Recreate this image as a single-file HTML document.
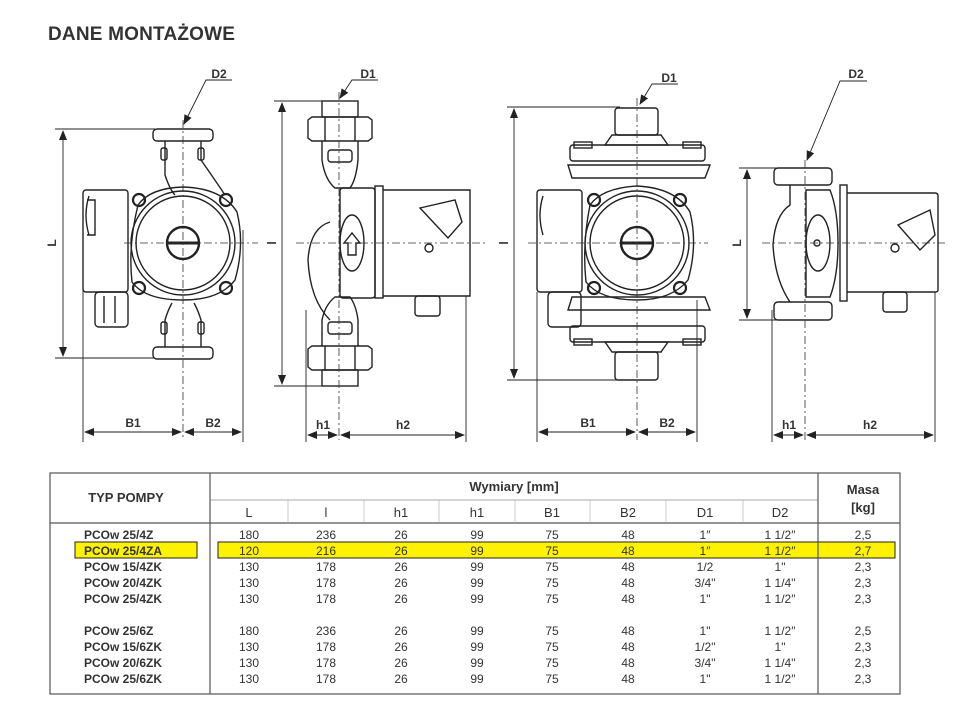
<!DOCTYPE html>
<html><head><meta charset="utf-8">
<style>
html,body{margin:0;padding:0;background:#fff;}
body{width:965px;height:708px;position:relative;overflow:hidden;font-family:"Liberation Sans",sans-serif;color:#333;}
.t{position:absolute;left:48px;top:24px;font-size:19px;font-weight:bold;color:#333;letter-spacing:0.2px;}
svg{position:absolute;left:0;top:0;}
</style></head><body>
<div class="t">DANE MONTAŻOWE</div>
<svg width="965" height="708" viewBox="0 0 965 708" font-family="Liberation Sans, sans-serif">
<defs>
<marker id="a" markerWidth="10" markerHeight="8" refX="9" refY="4" orient="auto-start-reverse" markerUnits="userSpaceOnUse"><path d="M0,0 L10,4 L0,8 z" fill="#222"/></marker>
</defs>
<g stroke="#222" fill="none" stroke-width="1.4">
<!-- ============ Drawing 1 ============ -->
<rect x="153" y="129" width="60" height="12" rx="4"/>
<rect x="153" y="347" width="60" height="12" rx="4"/>
<path d="M165 141 L165 175 Q170 190 175 195 M201 141 L201 160 Q215 180 225 195"/>
<path d="M165 347 L165 320 Q168 310 172 303 M201 347 L201 320 Q198 310 194 303"/>
<rect x="161" y="148" width="6" height="12" rx="2"/><rect x="198" y="148" width="6" height="12" rx="2"/>
<rect x="161" y="322" width="6" height="12" rx="2"/><rect x="198" y="322" width="6" height="12" rx="2"/>
<path d="M138 205 Q150 188 183 187 Q222 188 237 212 Q245 245 235 280 Q220 300 183 300 Q145 300 132 282 Q128 245 138 205 z"/>
<circle cx="183" cy="243" r="52"/>
<circle cx="183" cy="243" r="47"/>
<circle cx="183" cy="243" r="16" stroke-width="2.4"/>
<line x1="168" y1="243" x2="198" y2="243" stroke-width="3"/>
<circle cx="139" cy="200" r="6" stroke-width="2.2"/><circle cx="226" cy="200" r="6" stroke-width="2.2"/>
<circle cx="139" cy="288" r="6" stroke-width="2.2"/><circle cx="226" cy="288" r="6" stroke-width="2.2"/>
<rect x="83" y="190" width="45" height="102" rx="3"/>
<path d="M89 196 Q83 215 89 235 M87 200 L95 200 L95 235 L87 235"/>
<rect x="95" y="292" width="33" height="35" rx="4"/>
<line x1="104" y1="296" x2="104" y2="323"/><line x1="115" y1="296" x2="115" y2="323"/>
<!-- ============ Drawing 2 ============ -->
<rect x="322" y="101" width="36" height="16"/>
<path d="M308 120 L312 117 L368 117 L372 120 L372 138 L368 141 L312 141 L308 138 z"/>
<line x1="325" y1="117" x2="325" y2="141"/><line x1="355" y1="117" x2="355" y2="141"/>
<rect x="322" y="370" width="36" height="16"/>
<path d="M308 349 L312 346 L368 346 L372 349 L372 367 L368 370 L312 370 L308 367 z"/>
<line x1="325" y1="346" x2="325" y2="370"/><line x1="355" y1="346" x2="355" y2="370"/>
<rect x="328" y="150" width="24" height="12" rx="3"/><rect x="328" y="322" width="24" height="12" rx="3"/>
<path d="M322 141 L322 160 Q325 180 335 188 L350 188 Q356 180 358 160 L358 141"/>
<path d="M322 346 L322 320 Q325 305 335 297 L350 297 Q356 305 358 320 L358 346"/>
<path d="M330 222 Q310 228 308 260 Q310 300 330 320"/>
<rect x="340" y="188" width="35" height="110" rx="3"/>
<ellipse cx="352" cy="243" rx="12" ry="28"/>
<path d="M348 255 L348 243 L344 243 L352 233 L360 243 L356 243 L356 255 z"/>
<rect x="375" y="186" width="8" height="112"/>
<path d="M383 190 L470 190 L470 296 L383 296"/>
<path d="M420 208 L455 200 L462 222 L448 238 Z"/>
<circle cx="429" cy="248" r="4"/>
<rect x="415" y="296" width="25" height="20" rx="3"/>
<!-- ============ Drawing 3 ============ -->
<rect x="615" y="108" width="43" height="27" rx="3"/>
<path d="M612 135 L661 135 L668 145 L605 145 Z"/>
<rect x="570" y="145" width="135" height="16" rx="3"/>
<rect x="574" y="142" width="18" height="6"/><rect x="683" y="142" width="18" height="6"/>
<path d="M568 165 L710 165 L705 178 L572 178 Z"/>
<rect x="615" y="352" width="43" height="28" rx="3"/>
<path d="M612 352 L661 352 L668 342 L605 342 Z"/>
<rect x="570" y="326" width="135" height="16" rx="3"/>
<rect x="574" y="339" width="18" height="6"/><rect x="683" y="339" width="18" height="6"/>
<path d="M568 310 L710 310 L705 297 L572 297 Z"/>
<path d="M590 205 Q602 188 637 186 Q676 188 690 212 Q698 245 688 280 Q672 300 637 300 Q600 300 586 282 Q582 245 590 205 z"/>
<circle cx="637" cy="243" r="52"/>
<circle cx="637" cy="243" r="47"/>
<circle cx="637" cy="243" r="16" stroke-width="2.4"/>
<line x1="622" y1="243" x2="652" y2="243" stroke-width="3"/>
<circle cx="594" cy="200" r="6" stroke-width="2.2"/><circle cx="680" cy="200" r="6" stroke-width="2.2"/>
<circle cx="594" cy="288" r="6" stroke-width="2.2"/><circle cx="680" cy="288" r="6" stroke-width="2.2"/>
<rect x="537" y="190" width="45" height="102" rx="3"/>
<path d="M543 196 Q537 215 543 235"/>
<rect x="548" y="292" width="33" height="35" rx="4"/>
<!-- ============ Drawing 4 ============ -->
<rect x="774" y="168" width="58" height="17" rx="4"/>
<rect x="774" y="302" width="58" height="18" rx="4"/>
<path d="M790 185 L790 205 Q775 215 773 245 Q775 280 790 302"/>
<path d="M806 190 L830 190 Q838 210 838 243 Q838 276 830 297 L806 297 Z"/>
<ellipse cx="818" cy="243" rx="12" ry="28"/>
<circle cx="817" cy="243" r="3"/>
<rect x="840" y="185" width="7" height="116"/>
<path d="M847 193 L935 193 Q938 193 938 196 L938 290 Q938 292 935 292 L847 292"/>
<path d="M898 225 L930 210 L935 235 L920 250 Z"/>
<circle cx="895" cy="248" r="4"/>
<rect x="883" y="292" width="24" height="20" rx="3"/>
</g>

<!-- center lines -->
<g stroke="#333" stroke-width="0.8" stroke-dasharray="8,3,2,3" fill="none">
<line x1="183" y1="120" x2="183" y2="440"/><line x1="124" y1="243" x2="258" y2="243"/>
<line x1="339" y1="92" x2="339" y2="440"/><line x1="296" y1="243" x2="485" y2="243"/>
<line x1="637" y1="98" x2="637" y2="440"/><line x1="528" y1="243" x2="708" y2="243"/>
<line x1="805" y1="160" x2="805" y2="440"/><line x1="762" y1="243" x2="945" y2="243"/>
</g>

<!-- dimension / extension lines -->
<g stroke="#222" stroke-width="0.9" fill="none">
<line x1="55" y1="129" x2="155" y2="129"/><line x1="55" y1="358" x2="155" y2="358"/>
<line x1="63" y1="131" x2="63" y2="356" marker-start="url(#a)" marker-end="url(#a)"/>
<line x1="83" y1="290" x2="83" y2="442"/><line x1="243" y1="230" x2="243" y2="442"/>
<line x1="85" y1="432" x2="181" y2="432" marker-start="url(#a)" marker-end="url(#a)"/>
<line x1="185" y1="432" x2="241" y2="432" marker-start="url(#a)" marker-end="url(#a)"/>
<polyline points="232,80 206,80 184,124" marker-end="url(#a)"/>

<line x1="274" y1="101" x2="322" y2="101"/><line x1="274" y1="386" x2="322" y2="386"/>
<line x1="282" y1="103" x2="282" y2="384" marker-start="url(#a)" marker-end="url(#a)"/>
<line x1="306" y1="310" x2="306" y2="442"/><line x1="466" y1="296" x2="466" y2="442"/>
<line x1="308" y1="435" x2="337" y2="435" marker-start="url(#a)" marker-end="url(#a)"/>
<line x1="341" y1="435" x2="464" y2="435" marker-start="url(#a)" marker-end="url(#a)"/>
<polyline points="378,80 352,80 340,98" marker-end="url(#a)"/>

<line x1="507" y1="107" x2="620" y2="107"/><line x1="507" y1="380" x2="620" y2="380"/>
<line x1="514" y1="109" x2="514" y2="378" marker-start="url(#a)" marker-end="url(#a)"/>
<line x1="537" y1="292" x2="537" y2="442"/><line x1="697" y1="300" x2="697" y2="442"/>
<line x1="539" y1="432" x2="635" y2="432" marker-start="url(#a)" marker-end="url(#a)"/>
<line x1="639" y1="432" x2="695" y2="432" marker-start="url(#a)" marker-end="url(#a)"/>
<polyline points="678,84 652,84 640,104" marker-end="url(#a)"/>

<line x1="739" y1="168" x2="790" y2="168"/><line x1="739" y1="320" x2="790" y2="320"/>
<line x1="747" y1="170" x2="747" y2="318" marker-start="url(#a)" marker-end="url(#a)"/>
<line x1="772" y1="310" x2="772" y2="442"/><line x1="935" y1="292" x2="935" y2="442"/>
<line x1="774" y1="435" x2="803" y2="435" marker-start="url(#a)" marker-end="url(#a)"/>
<line x1="807" y1="435" x2="933" y2="435" marker-start="url(#a)" marker-end="url(#a)"/>
<polyline points="867,81 840,81 807,160" marker-end="url(#a)"/>
</g>

<g font-size="12" font-weight="bold" fill="#333" text-anchor="middle">
<text x="219" y="78">D2</text><text x="368" y="78">D1</text><text x="669" y="82">D1</text><text x="856" y="78">D2</text>
<text x="133" y="427">B1</text><text x="213" y="427">B2</text>
<text x="323" y="429">h1</text><text x="403" y="429">h2</text>
<text x="588" y="427">B1</text><text x="667" y="427">B2</text>
<text x="789" y="429">h1</text><text x="870" y="429">h2</text>
<text transform="translate(56,243) rotate(-90)">L</text>
<text transform="translate(276,243) rotate(-90)">l</text>
<text transform="translate(508,243) rotate(-90)">l</text>
<text transform="translate(741,243) rotate(-90)">L</text>
</g>

<!-- ============ TABLE ============ -->
<rect x="218" y="542" width="677" height="16" fill="#fff200" stroke="#222" stroke-width="1"/>
<rect x="75" y="542" width="122" height="16" fill="#fff200" stroke="#222" stroke-width="1"/>
<g stroke="#555" stroke-width="1.2" fill="none">
<rect x="50" y="473" width="850" height="221"/>
<line x1="210" y1="473" x2="210" y2="694"/><line x1="818" y1="473" x2="818" y2="694"/>
<line x1="210" y1="500" x2="818" y2="500" stroke-width="0.6"/>
<line x1="50" y1="523" x2="900" y2="523"/>
</g>
<g stroke="#aaa" stroke-width="0.6">
<line x1="288" y1="500" x2="288" y2="523"/><line x1="364" y1="500" x2="364" y2="523"/>
<line x1="439" y1="500" x2="439" y2="523"/><line x1="515" y1="500" x2="515" y2="523"/>
<line x1="590" y1="500" x2="590" y2="523"/><line x1="666" y1="500" x2="666" y2="523"/>
<line x1="743" y1="500" x2="743" y2="523"/>
</g>
<g font-size="13" font-weight="bold" fill="#333" text-anchor="middle">
<text x="126" y="502">TYP POMPY</text>
<text x="514" y="491">Wymiary [mm]</text>
<text x="863" y="494">Masa</text><text x="863" y="512">[kg]</text>
<g font-weight="normal" font-size="13">
<text x="249" y="517">L</text><text x="326" y="517">l</text><text x="401" y="517">h1</text><text x="477" y="517">h1</text>
<text x="552" y="517">B1</text><text x="628" y="517">B2</text><text x="705" y="517">D1</text><text x="780" y="517">D2</text>
</g>
</g>
<g font-size="12" fill="#333">
<g font-weight="bold">
<text x="84" y="539">PCOw 25/4Z</text>
<text x="84" y="555">PCOw 25/4ZA</text>
<text x="84" y="571">PCOw 15/4ZK</text>
<text x="84" y="587">PCOw 20/4ZK</text>
<text x="84" y="603">PCOw 25/4ZK</text>
<text x="84" y="635">PCOw 25/6Z</text>
<text x="84" y="651">PCOw 15/6ZK</text>
<text x="84" y="667">PCOw 20/6ZK</text>
<text x="84" y="683">PCOw 25/6ZK</text>
</g>
<g text-anchor="middle">
<text y="539"><tspan x="249">180</tspan><tspan x="326">236</tspan><tspan x="401">26</tspan><tspan x="477">99</tspan><tspan x="552">75</tspan><tspan x="628">48</tspan><tspan x="705">1″</tspan><tspan x="780">1 1/2″</tspan><tspan x="863">2,5</tspan></text>
<text y="555"><tspan x="249">120</tspan><tspan x="326">216</tspan><tspan x="401">26</tspan><tspan x="477">99</tspan><tspan x="552">75</tspan><tspan x="628">48</tspan><tspan x="705">1″</tspan><tspan x="780">1 1/2″</tspan><tspan x="863">2,7</tspan></text>
<text y="571"><tspan x="249">130</tspan><tspan x="326">178</tspan><tspan x="401">26</tspan><tspan x="477">99</tspan><tspan x="552">75</tspan><tspan x="628">48</tspan><tspan x="705">1/2</tspan><tspan x="780">1"</tspan><tspan x="863">2,3</tspan></text>
<text y="587"><tspan x="249">130</tspan><tspan x="326">178</tspan><tspan x="401">26</tspan><tspan x="477">99</tspan><tspan x="552">75</tspan><tspan x="628">48</tspan><tspan x="705">3/4"</tspan><tspan x="780">1 1/4"</tspan><tspan x="863">2,3</tspan></text>
<text y="603"><tspan x="249">130</tspan><tspan x="326">178</tspan><tspan x="401">26</tspan><tspan x="477">99</tspan><tspan x="552">75</tspan><tspan x="628">48</tspan><tspan x="705">1"</tspan><tspan x="780">1 1/2″</tspan><tspan x="863">2,3</tspan></text>
<text y="635"><tspan x="249">180</tspan><tspan x="326">236</tspan><tspan x="401">26</tspan><tspan x="477">99</tspan><tspan x="552">75</tspan><tspan x="628">48</tspan><tspan x="705">1"</tspan><tspan x="780">1 1/2″</tspan><tspan x="863">2,5</tspan></text>
<text y="651"><tspan x="249">130</tspan><tspan x="326">178</tspan><tspan x="401">26</tspan><tspan x="477">99</tspan><tspan x="552">75</tspan><tspan x="628">48</tspan><tspan x="705">1/2"</tspan><tspan x="780">1"</tspan><tspan x="863">2,3</tspan></text>
<text y="667"><tspan x="249">130</tspan><tspan x="326">178</tspan><tspan x="401">26</tspan><tspan x="477">99</tspan><tspan x="552">75</tspan><tspan x="628">48</tspan><tspan x="705">3/4"</tspan><tspan x="780">1 1/4"</tspan><tspan x="863">2,3</tspan></text>
<text y="683"><tspan x="249">130</tspan><tspan x="326">178</tspan><tspan x="401">26</tspan><tspan x="477">99</tspan><tspan x="552">75</tspan><tspan x="628">48</tspan><tspan x="705">1"</tspan><tspan x="780">1 1/2″</tspan><tspan x="863">2,3</tspan></text>
</g>
</g>
</svg>
</body></html>
